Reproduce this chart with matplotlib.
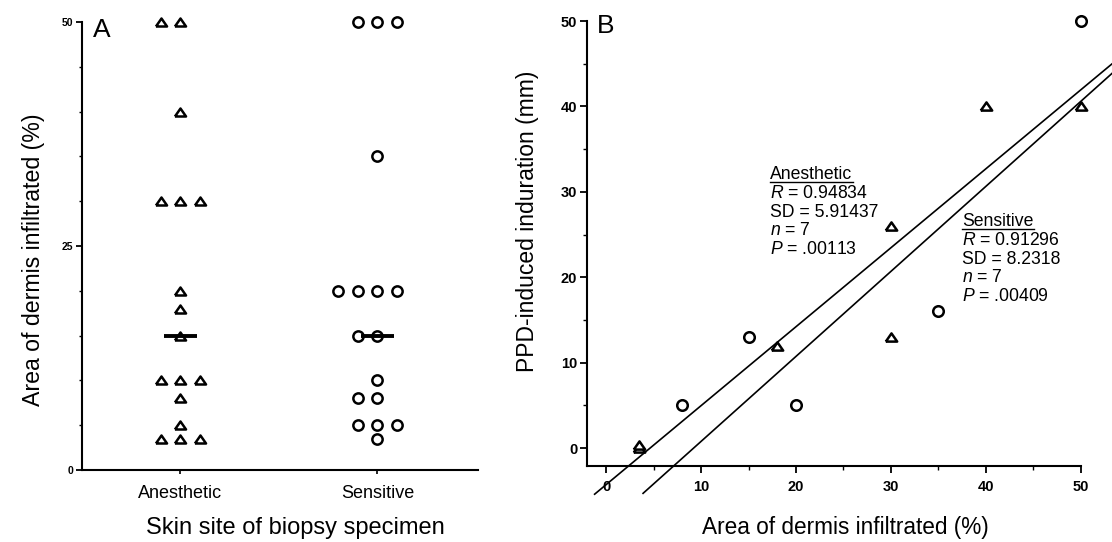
import numpy as np
import matplotlib
matplotlib.use("Agg")
import matplotlib.pyplot as plt
from matplotlib.lines import Line2D
from matplotlib.ticker import MultipleLocator
from matplotlib.transforms import IdentityTransform

plt.rcParams["font.family"] = ["Liberation Sans", "DejaVu Sans"]
plt.rcParams["mathtext.fontset"] = "custom"
plt.rcParams["mathtext.rm"] = "Liberation Sans"
plt.rcParams["mathtext.it"] = "Liberation Sans:italic"

# ── Data ──────────────────────────────────────────────────────────────────────
# Panel A: area of dermis infiltrated (%) by skin site
sites = ["Anesthetic", "Sensitive"]
anesthetic_area = [50, 50, 40, 30, 30, 30, 20, 18, 15, 10, 10, 10, 8, 5, 3.5, 3.5, 3.5]
sensitive_area = [50, 50, 50, 35, 20, 20, 20, 20, 15, 15, 10, 8, 8, 5, 5, 5, 3.5]
area_ticks = [0, 25, 50]

# Panel B: PPD induration vs area infiltrated
anes_x = [3.5, 3.5, 18, 30, 30, 40, 50]
anes_y = [0, 0.4, 12, 26, 13, 40, 40]
sens_x = [8, 15, 20, 35, 50]
sens_y = [5, 13, 5, 16, 50]

# regression lines (end points)
anes_fit_x = [-1.2, 53.5]
anes_fit_y = [-5.4, 45.2]
sens_fit_x = [3.9, 53.5]
sens_fit_y = [-5.3, 44.1]

anes_stats = ["Anesthetic", r"$\mathit{R}$ = 0.94834", "SD = 5.91437",
              r"$\mathit{n}$ = 7", r"$\mathit{P}$ = .00113"]
sens_stats = ["Sensitive", r"$\mathit{R}$ = 0.91296", "SD = 8.2318",
              r"$\mathit{n}$ = 7", r"$\mathit{P}$ = .00409"]

# ── Styling helpers ───────────────────────────────────────────────────────────
TRI = [(-1, -0.72), (1, -0.72), (0, 0.72), (-1, -0.72)]
mk_kw = dict(linestyle="none", markerfacecolor="white", markeredgecolor="black",
             markeredgewidth=1.8, clip_on=False, zorder=3)


def column_offsets(values, step=0.1):
    """GraphPad style: identical values spread as 0, -1, +1, -2, ... columns."""
    vals = np.asarray(values, dtype=float)
    offs = np.zeros_like(vals)
    seen = {}
    for i, v in enumerate(vals):
        k = seen.get(v, 0)
        seen[v] = k + 1
        offs[i] = 0 if k == 0 else (-(k + 1) // 2 if k % 2 else k // 2)
    return offs * step


fig = plt.figure(figsize=(11.12, 5.42), dpi=100)

# ── Panel A ───────────────────────────────────────────────────────────────────
axA = fig.add_axes([0.0737, 0.1328, 0.3561, 0.8266])
for i, (vals, marker, ms) in enumerate([(anesthetic_area, TRI, 8.0), (sensitive_area, "o", 7.4)]):
    xs = i + column_offsets(vals)
    axA.plot(xs, vals, marker=marker, markersize=ms, **mk_kw)
    med = np.median(vals)
    axA.hlines(med, i - 0.085, i + 0.085, color="black", lw=2.8, zorder=4)

axA.set_xlim(-0.5, 1.51)
axA.set_ylim(0, 50)
axA.set_xticks(range(len(sites)))
axA.set_xticklabels(sites, fontsize=13)
axA.set_yticks(area_ticks)
axA.set_yticklabels([str(t) for t in area_ticks], fontsize=7.5, fontweight="bold")
axA.yaxis.set_minor_locator(MultipleLocator(5))
axA.tick_params(axis="x", length=3, width=1.2, pad=8)
axA.tick_params(axis="y", which="major", length=4.5, width=1.3, pad=2)
axA.tick_params(axis="y", which="minor", length=2, width=1.0)
for s in ["top", "right"]:
    axA.spines[s].set_visible(False)
for s in ["left", "bottom"]:
    axA.spines[s].set_linewidth(1.5)
axA.set_ylabel("Area of dermis infiltrated (%)", fontsize=16.7)
axA.yaxis.set_label_coords(-0.094, 0.47)
axA.set_xlabel("Skin site of biopsy specimen", fontsize=17, va="top")
axA.xaxis.set_label_coords(0.54, -0.104)
fig.text(93 / 1112, 1 - 37 / 542, "A", fontsize=19, va="baseline")

# ── Panel B ───────────────────────────────────────────────────────────────────
axB = fig.add_axes([0.5279, 0.1402, 0.4442, 0.8210])
axB.plot(anes_fit_x, anes_fit_y, color="black", lw=1.2, clip_on=False, zorder=2)
axB.plot(sens_fit_x, sens_fit_y, color="black", lw=1.2, clip_on=False, zorder=2)
axB.plot(anes_x, anes_y, marker=TRI, markersize=8.2, **mk_kw)
axB.plot(sens_x, sens_y, marker="o", markersize=7.6, **mk_kw)

axB.set_xlim(-2, 50)
axB.set_ylim(-2.1, 50)
axB.xaxis.set_major_locator(MultipleLocator(10))
axB.xaxis.set_minor_locator(MultipleLocator(5))
axB.yaxis.set_major_locator(MultipleLocator(10))
axB.yaxis.set_minor_locator(MultipleLocator(5))
for lab in axB.get_xticklabels() + axB.get_yticklabels():
    lab.set_fontsize(10.5)
    lab.set_fontweight("bold")
axB.tick_params(which="major", length=5, width=1.3)
axB.tick_params(which="minor", length=3, width=1.0)
axB.tick_params(axis="x", pad=5)
axB.tick_params(axis="y", pad=2)
for s in ["top", "right"]:
    axB.spines[s].set_visible(False)
for s in ["left", "bottom"]:
    axB.spines[s].set_linewidth(1.5)
axB.set_ylabel("PPD-induced induration (mm)", fontsize=16.5)
axB.yaxis.set_label_coords(-0.097, 0.55)
axB.set_xlabel("Area of dermis infiltrated (%)", fontsize=16.3, va="top")
axB.xaxis.set_label_coords(0.524, -0.112)
fig.text(597 / 1112, 1 - 33 / 542, "B", fontsize=19, va="baseline")

# statistics blocks
headers = []
for stats, x0, y0 in [(anes_stats, 17.3, 31.5), (sens_stats, 37.5, 26.0)]:
    for j, line in enumerate(stats):
        t = axB.text(x0, y0 - j * 2.2, line, fontsize=12.7, va="baseline", ha="left")
        if j == 0:
            headers.append(t)

# underline the group headers
fig.canvas.draw()
renderer = fig.canvas.get_renderer()
for t in headers:
    bb = t.get_window_extent(renderer)
    y = bb.y0 + 1.5
    fig.add_artist(Line2D([bb.x0, bb.x1], [y, y], color="black", lw=1.0,
                          transform=IdentityTransform()))

fig.savefig("out.png", dpi=100)
